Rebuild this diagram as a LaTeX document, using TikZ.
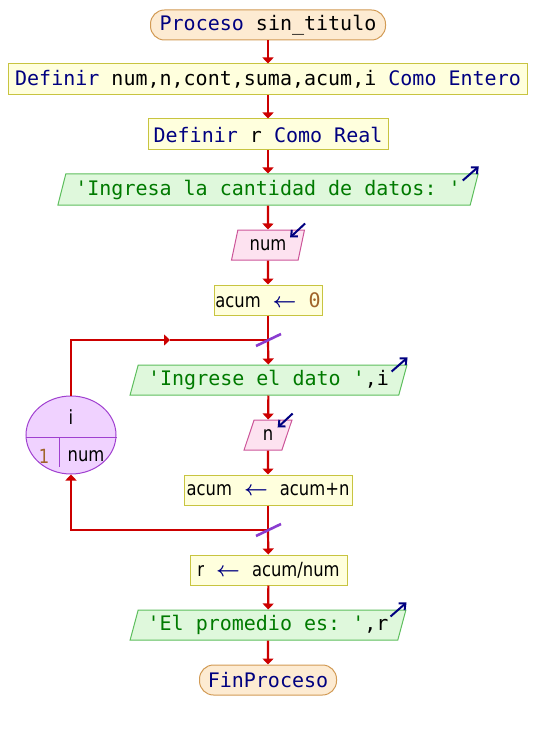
\documentclass[tikz,border=0pt]{standalone}
\usepackage{fontspec}
\setmonofont{DejaVu Sans Mono}
\newfontfamily\varf{DejaVu Sans}[FakeStretch=0.84]
\usetikzlibrary{shapes.geometric,arrows.meta,calc}

\definecolor{flowred}{HTML}{CC0000}
\definecolor{kwblue}{HTML}{000080}
\definecolor{strgreen}{HTML}{007A00}
\definecolor{numbrown}{HTML}{A0642A}
\definecolor{termfill}{HTML}{FDEBD2}
\definecolor{termdraw}{HTML}{D29B55}
\definecolor{procfill}{HTML}{FFFFDD}
\definecolor{procdraw}{HTML}{C8C440}
\definecolor{outfill}{HTML}{DFF8DC}
\definecolor{outdraw}{HTML}{5DBE5D}
\definecolor{infill}{HTML}{FDE2F0}
\definecolor{indraw}{HTML}{CC5599}
\definecolor{loopfill}{HTML}{F0D2FF}
\definecolor{loopdraw}{HTML}{A040D0}
\definecolor{slashcol}{HTML}{8A3CD0}

\newcommand\kw[1]{\textcolor{kwblue}{#1}}
\newcommand\str[1]{\textcolor{strgreen}{#1}}
\newcommand\nm[1]{\textcolor{numbrown}{#1}}
\newcommand\asg{\textcolor{kwblue}{\boldmath\(\leftarrow\)}}
\newcommand\vf{\varf\fontsize{19.5}{23}\selectfont}

\tikzset{
  basebox/.style={inner sep=0pt, line width=1pt, font=\ttfamily\fontsize{20}{24}\selectfont},
  term/.style={basebox, draw=termdraw, fill=termfill, rounded corners=14pt},
  proc/.style={basebox, draw=procdraw, fill=procfill},
  outp/.style={basebox, draw=outdraw, fill=outfill, trapezium, trapezium left angle=69,
    trapezium right angle=111, trapezium stretches=true},
  inp/.style={basebox, draw=indraw, fill=infill, trapezium, trapezium left angle=71,
    trapezium right angle=109, trapezium stretches=true},
  loopnode/.style={ellipse, draw=loopdraw, fill=loopfill, line width=1pt, inner sep=0pt},
  wire/.style={draw=flowred, line width=2.2pt},
  flow/.style={wire, -{Triangle[length=6pt,width=11pt]}},
  slash/.style={draw=slashcol, line width=2.6pt},
  ioarrow/.style={draw=kwblue, line width=2pt, -{Straight Barb[length=5pt,width=9pt]}},
  vartext/.style={inner sep=0pt, font=\vf}
}

\begin{document}
\begin{tikzpicture}[x=1pt, y=-1pt]
  \useasboundingbox (0,0) rectangle (536,730);

  % main column
  \node[term, minimum width=235pt, minimum height=30pt] (start) at (268,25)
    {\kw{Proceso} sin\_titulo};
  \node[proc, minimum width=519pt, minimum height=31pt] (def1) at (268,79.5)
    {\kw{Definir} num,n,cont,suma,acum,i \kw{Como Entero}};
  \node[proc, minimum width=240pt, minimum height=31pt] (def2) at (268,134.5)
    {\kw{Definir} r \kw{Como Real}};
  \node[outp, minimum width=422pt, minimum height=31pt] (out1) at (268,189.5)
    {\str{'Ingresa la cantidad de datos: '}\hspace{6pt}};
  \node[inp, minimum width=73pt, minimum height=30pt] (in1) at (268,245)
    {\vf num};
  \node[proc, minimum width=108pt, minimum height=30pt] (as0) at (268,300)
    {{\vf acum} \asg{} \nm{0}};
  \node[outp, minimum width=277pt, minimum height=30pt] (out2) at (268.5,380)
    {\str{'Ingrese el dato '},i\hspace{6pt}};
  \node[inp, minimum width=48pt, minimum height=30pt] (in2) at (268,435)
    {\vf n};
  \node[proc, minimum width=168pt, minimum height=30pt] (as1) at (268,490)
    {{\vf acum} \asg{} {\vf acum+n}};
  \node[proc, minimum width=157pt, minimum height=30pt] (as2) at (268.5,570)
    {{\vf r} \asg{} {\vf acum/num}};
  \node[outp, minimum width=276pt, minimum height=30pt] (out3) at (268,625)
    {\str{'El promedio es: '},r\hspace{6pt}};
  \node[term, minimum width=137pt, minimum height=30pt] (end) at (268,680)
    {\kw{FinProceso}};

  % for-loop counter
  \node[loopnode, minimum width=90pt, minimum height=78pt] (loop) at (71,435) {};
  \draw[draw=loopdraw, line width=1pt] ($(loop.west)+(0,2)$) -- ($(loop.east)+(0,2)$);
  \draw[draw=loopdraw, line width=1pt] (59,437) -- (59,467);
  \node[vartext] (lvar) at (71,417) {i};
  \node[vartext, text=numbrown] (lfrom) at (44,456) {1};
  \node[vartext] (lto) at (86,456) {num};

  % junction points of the loop
  \coordinate (jt) at (268,340);
  \coordinate (jb) at (268,530);
  \coordinate (jmid) at (170,340);

  % straight connectors
  \draw[flow] (start) -- (def1);
  \draw[flow] (def1) -- (def2);
  \draw[flow] (def2) -- (out1);
  \draw[flow] (out1) -- (in1);
  \draw[flow] (in1) -- (as0);
  \draw[wire] (as0) -- (jt);
  \draw[flow] (jt) -- (out2);
  \draw[flow] (out2) -- (in2);
  \draw[flow] (in2) -- (as1);
  \draw[wire] (as1) -- (jb);
  \draw[flow] (jb) -- (as2);
  \draw[flow] (as2) -- (out3);
  \draw[flow] (out3) -- (end);

  % loop connectors
  \draw[flow] (loop.north) |- (jmid);
  \draw[wire] (jmid) -- (jt);
  \draw[flow] (jb) -| (loop.south);

  % loop marks on the main line
  \draw[slash] ($(jt)+(-12,6)$) -- ($(jt)+(13,-6)$);
  \draw[slash] ($(jb)+(-12,6)$) -- ($(jb)+(13,-6)$);

  % output / input markers
  \draw[ioarrow] ($(out1.top right corner)+(-16,7)$) -- ($(out1.top right corner)+(0,-7)$);
  \draw[ioarrow] ($(out2.top right corner)+(-16,7)$) -- ($(out2.top right corner)+(0,-7)$);
  \draw[ioarrow] ($(out3.top right corner)+(-16,7)$) -- ($(out3.top right corner)+(0,-7)$);
  \draw[ioarrow] ($(in1.top right corner)+(0,-6)$) -- ($(in1.top right corner)+(-15,8)$);
  \draw[ioarrow] ($(in2.top right corner)+(0,-6)$) -- ($(in2.top right corner)+(-15,8)$);
\end{tikzpicture}
\end{document}
